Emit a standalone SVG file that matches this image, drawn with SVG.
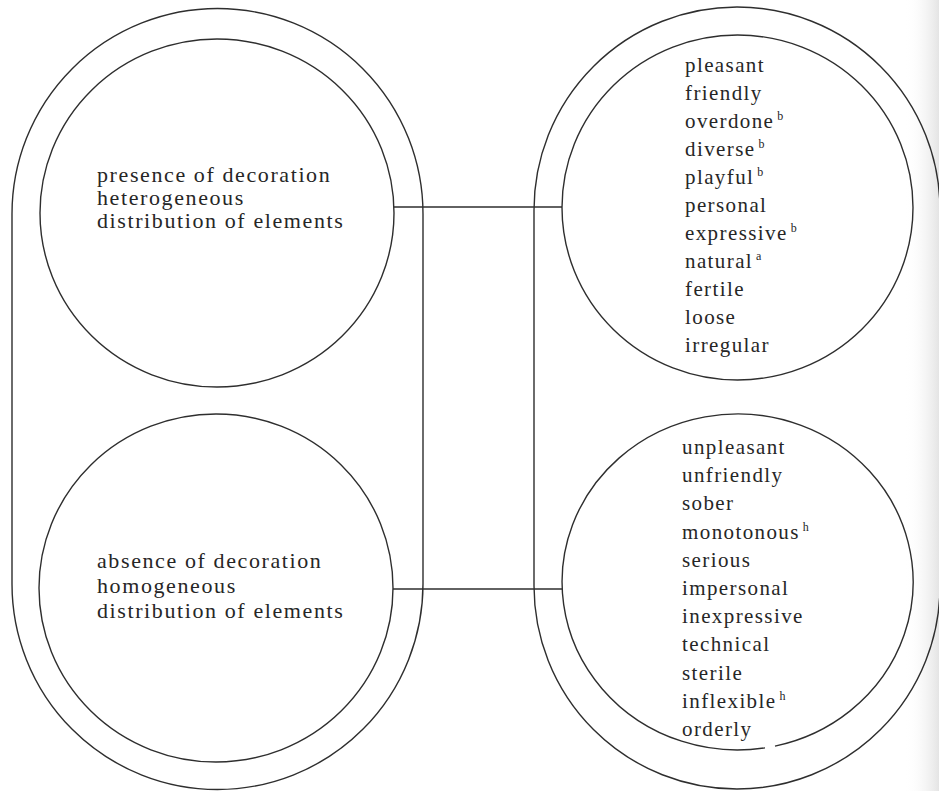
<svg xmlns="http://www.w3.org/2000/svg" width="939" height="791" viewBox="0 0 939 791">
<defs>
<linearGradient id="edge" x1="0" y1="0" x2="1" y2="0">
<stop offset="0" stop-color="#fff" stop-opacity="0"/>
<stop offset="1" stop-color="#e4e4e4"/>
</linearGradient>
</defs>
<style>
.ln{fill:none;stroke:#2e2e2e;stroke-width:1.4}
.t{font-family:"Liberation Serif","Times New Roman",serif;fill:#262626}
.tl{font-size:22px;letter-spacing:1.6px}
.tr{font-size:21px;letter-spacing:1.4px}
.sup{font-size:12px;letter-spacing:0}
</style>
<rect width="939" height="791" fill="#fff"/>
<rect x="905" y="0" width="34" height="791" fill="url(#edge)"/>
<g id="groupLeft">
<path class="ln" d="M12 214 A205.5 205.5 0 0 1 423 214 L423 584 A205.5 205.5 0 0 1 12 584 Z"/>
</g>
<g id="groupRight">
<path class="ln" d="M534 210 A203 203 0 0 1 940 210 L940 586 A203 203 0 0 1 534 586 Z"/>
</g>
<g id="nodeDecorPresent">
<ellipse class="ln" cx="217" cy="213" rx="177" ry="174"/>
<text class="t tl"><tspan x="97" y="182">presence of decoration</tspan><tspan x="97" y="205">heterogeneous</tspan><tspan x="97" y="228">distribution of elements</tspan></text>
</g>
<g id="nodeDecorAbsent">
<ellipse class="ln" cx="216" cy="588" rx="177" ry="174"/>
<text class="t tl"><tspan x="97" y="568">absence of decoration</tspan><tspan x="97" y="593">homogeneous</tspan><tspan x="97" y="618">distribution of elements</tspan></text>
</g>
<g id="nodePositive">
<ellipse class="ln" cx="737.5" cy="207.5" rx="175.5" ry="172.5"/>
<text class="t tr">
<tspan x="685" y="72">pleasant</tspan>
<tspan x="685" y="100">friendly</tspan>
<tspan x="685" y="128">overdone<tspan class="sup" dy="-8"> b</tspan></tspan>
<tspan x="685" y="156">diverse<tspan class="sup" dy="-8"> b</tspan></tspan>
<tspan x="685" y="184">playful<tspan class="sup" dy="-8"> b</tspan></tspan>
<tspan x="685" y="212">personal</tspan>
<tspan x="685" y="240">expressive<tspan class="sup" dy="-8"> b</tspan></tspan>
<tspan x="685" y="268">natural<tspan class="sup" dy="-8"> a</tspan></tspan>
<tspan x="685" y="296">fertile</tspan>
<tspan x="685" y="324">loose</tspan>
<tspan x="685" y="352">irregular</tspan>
</text>
</g>
<g id="nodeNegative">
<path class="ln" d="M765 747.9 A175.5 168 0 1 1 775 746.1"/>
<text class="t tr">
<tspan x="682" y="454">unpleasant</tspan>
<tspan x="682" y="482">unfriendly</tspan>
<tspan x="682" y="510">sober</tspan>
<tspan x="682" y="539">monotonous<tspan class="sup" dy="-8"> h</tspan></tspan>
<tspan x="682" y="567">serious</tspan>
<tspan x="682" y="595">impersonal</tspan>
<tspan x="682" y="623">inexpressive</tspan>
<tspan x="682" y="651">technical</tspan>
<tspan x="682" y="680">sterile</tspan>
<tspan x="682" y="708">inflexible<tspan class="sup" dy="-8"> h</tspan></tspan>
<tspan x="682" y="736">orderly</tspan>
</text>
</g>
<g id="connectors">
<line class="ln" x1="394" y1="207" x2="562" y2="207"/>
<line class="ln" x1="393" y1="589" x2="562" y2="589"/>
</g>
</svg>
